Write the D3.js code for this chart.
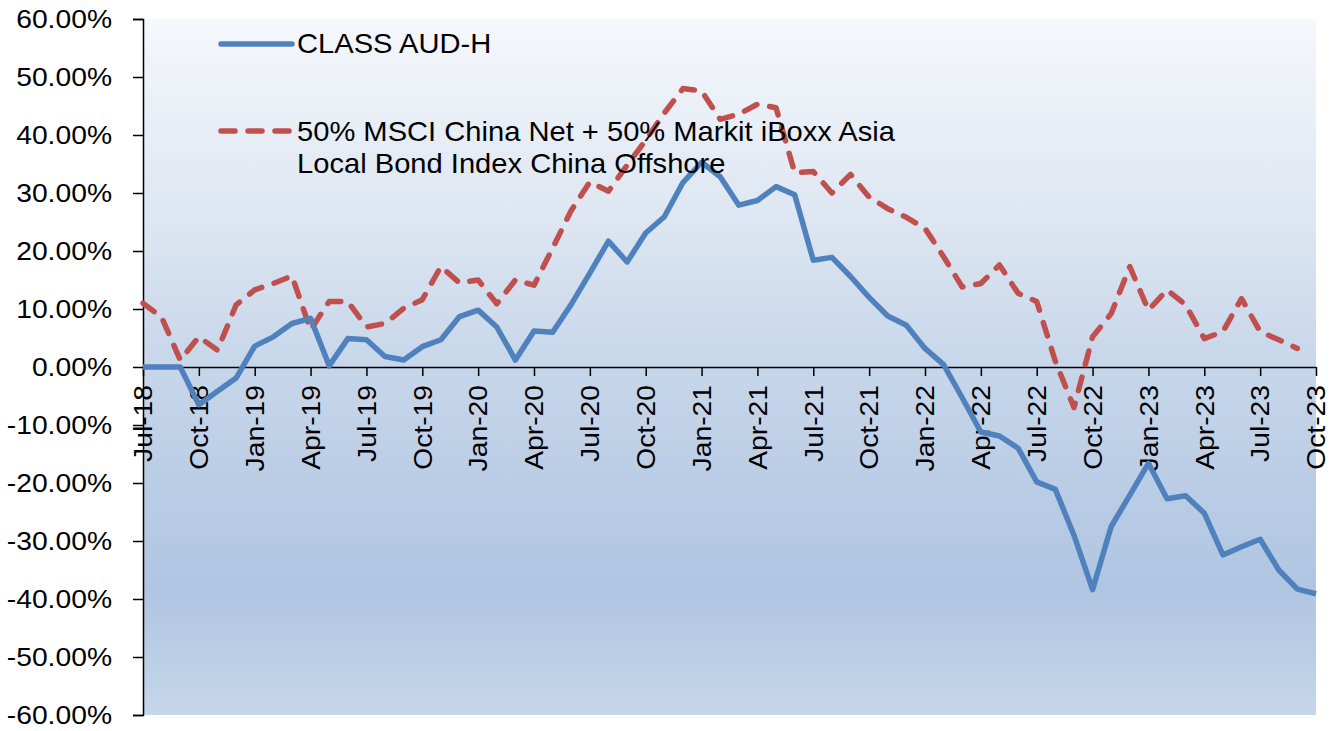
<!DOCTYPE html>
<html>
<head>
<meta charset="utf-8">
<script src="https://cdn.jsdelivr.net/npm/d3@7"></script>
<style>
  body { margin: 0; background: #fff; }
  text { font-family: "Liberation Sans", Arial, sans-serif; fill: #000; }
</style>
</head>
<body>
<svg id="chart" width="1344" height="731"></svg>
<script>
// monthly points, Jul-18 .. Oct-23
const months = d3.timeMonth.range(new Date(2018, 6, 1), new Date(2023, 10, 1))
const monthLabel = d3.timeFormat('%b-%y')

const classAudH = [
  0, 0, 0, -6.5, -4.2, -1.9, 3.6, 5.2, 7.5, 8.4,
  0.2, 4.9, 4.7, 1.8, 1.2, 3.5, 4.7, 8.7, 9.8, 6.9,
  1.2, 6.2, 6.0, 10.8, 16.2, 21.7, 18.1, 23.1, 25.9, 31.8,
  35.3, 32.8, 27.9, 28.7, 31.1, 29.7, 18.4, 18.9, 15.6, 12.0,
  8.8, 7.2, 3.2, 0.4, -5.3, -11.2, -11.9, -14.0, -19.8, -21.1,
  -29.0, -38.4, -27.5, -22.1, -16.6, -22.7, -22.2, -25.2, -32.4, -31.0,
  -29.7, -35.0, -38.3, -39.1
]
const benchmark = [
  11.0, 8.6, 1.2, 5.2, 2.9, 10.7, 13.3, 14.4, 15.7, 6.4,
  11.3, 11.3, 6.9, 7.5, 10.1, 11.6, 17.3, 14.5, 15.0, 10.9,
  15.0, 14.1, 20.5, 27.0, 31.9, 30.3, 34.8, 39.1, 43.8, 48.0,
  47.6, 42.7, 43.6, 45.3, 44.7, 33.5, 33.7, 30.0, 33.2, 29.3,
  27.3, 25.8, 23.9, 19.0, 13.8, 14.4, 17.6, 12.7, 11.3, 1.0,
  -7.0, 5.2, 9.2, 17.3, 9.8, 13.3, 10.7, 4.9, 6.1, 11.8,
  6.1, 4.7, 3.2
]
const yTicks = [-60, -50, -40, -30, -20, -10, 0, 10, 20, 30, 40, 50, 60]
const legendNames = ['CLASS AUD-H', '50% MSCI China Net + 50% Markit iBoxx Asia', 'Local Bond Index China Offshore']

const svg = d3.select('#chart')
const plotLeft = 143, plotRight = 1316, plotTop = 19, plotBottom = 715

let x = d3.scalePoint().domain(months.map((d, i) => i)).range([plotLeft, plotRight])
let y = d3.scaleLinear().domain([-60, 60]).range([plotBottom, plotTop])

// stretch text a bit wider, like the source rendering
function stretch(sel, k) {
  sel.each(function() {
    let w = this.getComputedTextLength()
    d3.select(this).attr('textLength', w * k).attr('lengthAdjust', 'spacingAndGlyphs')
  })
}

let grad = svg.append('defs').append('linearGradient')
  .attr('id', 'bg').attr('x1', 0).attr('y1', 0).attr('x2', 0).attr('y2', 1)
grad.selectAll('stop')
  .data([[0, '#f5f8fc'], [0.3, '#dce5f1'], [0.5, '#c7d6ea'], [0.82, '#afc5e1'], [1, '#c6d6ea']])
  .enter().append('stop')
    .attr('offset', d => d[0])
    .attr('stop-color', d => d[1])

svg.append('rect')
  .attr('x', plotLeft).attr('y', plotTop)
  .attr('width', plotRight - plotLeft).attr('height', plotBottom - plotTop)
  .attr('fill', 'url(#bg)')

// y axis
let yAxis = svg.append('g')
  .attr('transform', `translate(${plotLeft},0)`)
  .call(d3.axisLeft(y).tickValues(yTicks).tickFormat(d => d.toFixed(2) + '%').tickSize(10).tickPadding(21))
yAxis.select('.domain').attr('stroke', '#000').attr('stroke-width', 1.5)
yAxis.selectAll('.tick line').attr('stroke', '#000').attr('stroke-width', 1.5)
yAxis.selectAll('.tick text')
  .attr('font-size', 25)
  .attr('font-family', '"Liberation Sans", Arial, sans-serif')
  .attr('fill', '#000')
  .call(stretch, 1.13)

// x axis on the zero line
let xTicks = months.map((d, i) => i).filter(i => i % 3 === 0)
let xAxis = svg.append('g')
  .attr('transform', `translate(0,${y(0)})`)
  .call(d3.axisBottom(x).tickValues(xTicks).tickFormat(i => monthLabel(months[i])).tickSize(9).tickSizeOuter(0))
xAxis.select('.domain').attr('stroke', '#000').attr('stroke-width', 1.5)
xAxis.selectAll('.tick line').attr('stroke', '#000').attr('stroke-width', 1.5)
xAxis.selectAll('.tick text')
  .attr('font-size', 25)
  .attr('font-family', '"Liberation Sans", Arial, sans-serif')
  .attr('fill', '#000')
  .attr('text-anchor', 'end')
  .attr('transform', 'translate(0,18) rotate(-90)')
  .attr('x', 0).attr('y', 0).attr('dy', '0.35em')
  .call(stretch, 1.13)

let line = d3.line().x((d, i) => x(i)).y(d => y(d))

svg.append('path')
  .datum(benchmark)
  .attr('d', line)
  .attr('fill', 'none')
  .attr('stroke', '#c0504d')
  .attr('stroke-width', 5.5)
  .attr('stroke-dasharray', '14,13')
  .attr('stroke-linecap', 'round')
  .attr('stroke-linejoin', 'round')

svg.append('path')
  .datum(classAudH)
  .attr('d', line)
  .attr('fill', 'none')
  .attr('stroke', '#4f81bd')
  .attr('stroke-width', 5.5)
  .attr('stroke-linejoin', 'round')

// legend
let legend = svg.append('g')
legend.append('line')
  .attr('x1', 221).attr('x2', 292).attr('y1', 44).attr('y2', 44)
  .attr('stroke', '#4f81bd').attr('stroke-width', 5.5).attr('stroke-linecap', 'round')
legend.append('line')
  .attr('x1', 221).attr('x2', 292).attr('y1', 131).attr('y2', 131)
  .attr('stroke', '#c0504d').attr('stroke-width', 5.5)
  .attr('stroke-dasharray', '14,13').attr('stroke-linecap', 'round')

legend.selectAll('text')
  .data(legendNames)
  .enter().append('text')
    .attr('x', 297)
    .attr('y', (d, i) => [53, 141, 173][i])
    .attr('font-size', 28)
    .text(d => d)
    .call(stretch, 1.04)
</script>
</body>
</html>
